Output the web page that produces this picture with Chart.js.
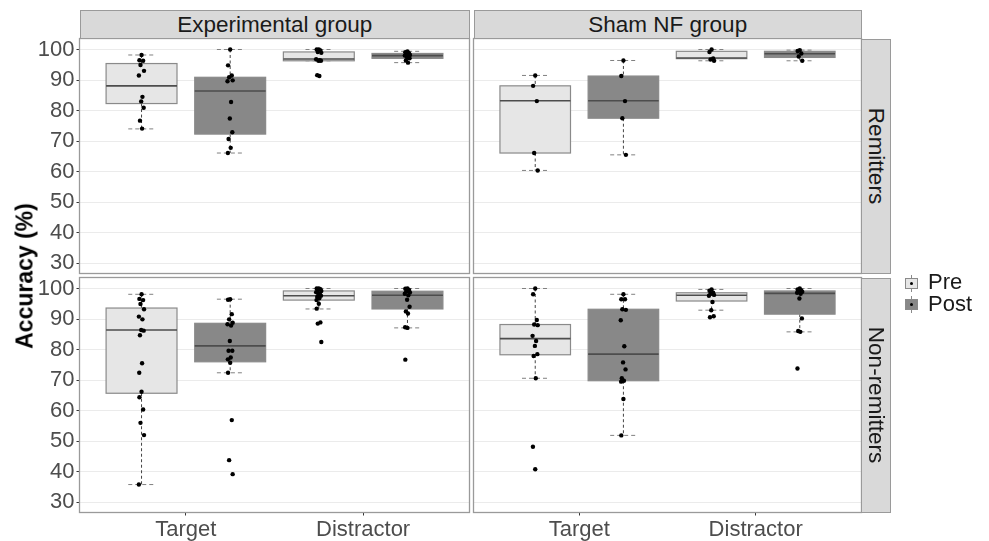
<!DOCTYPE html>
<html>
<head>
<meta charset="utf-8">
<script src="https://cdn.jsdelivr.net/npm/chart.js@4/dist/chart.umd.min.js"></script>
<style>
  html, body { margin: 0; padding: 0; background: #fff; width: 989px; height: 541px; overflow: hidden;
    font-family: "Liberation Sans", Arial, sans-serif; }
  canvas.layer { position: absolute; left: 0; top: 0; }
  .strip { position: absolute; background: #d9d9d9; border: 1px solid #9a9a9a; box-sizing: border-box;
    color: #1a1a1a; font-size: 22.5px; display: flex; align-items: center; justify-content: center; white-space: nowrap; }
  .strip.side span { display: inline-block; transform: rotate(90deg); }
  #ytitle { position: absolute; left: 25px; top: 275.5px; transform: translate(-50%, -50%) rotate(-90deg);
    font-size: 23px; font-weight: bold; color: #000; white-space: nowrap; }
  .key { position: absolute; width: 17px; height: 17px; }
  .key .stem { position: absolute; left: 8px; top: 0; width: 1px; height: 17px; background: #8a8a8a; }
  .key .box { position: absolute; left: 2px; top: 3px; width: 13px; height: 11px; box-sizing: border-box; border: 1px solid #8a8a8a; }
  .key .dot { position: absolute; left: 7px; top: 7px; width: 3px; height: 3px; border-radius: 50%; background: #000; }
  .keylabel { position: absolute; font-size: 22px; color: #1a1a1a; white-space: nowrap; }
</style>
</head>
<body>
<canvas id="pTL" class="layer" width="989" height="541"></canvas>
<canvas id="pTR" class="layer" width="989" height="541"></canvas>
<canvas id="pBL" class="layer" width="989" height="541"></canvas>
<canvas id="pBR" class="layer" width="989" height="541"></canvas>

<div class="strip" id="sG0" style="left:79.5px; top:10px; width:390.5px; height:29px;"></div>
<div class="strip" id="sG1" style="left:473.5px; top:10px; width:388.5px; height:29px;"></div>
<div class="strip side" id="sR0" style="left:861px; top:38.5px; width:29.5px; height:235.5px;"><span></span></div>
<div class="strip side" id="sR1" style="left:861px; top:277.5px; width:29.5px; height:235.5px;"><span></span></div>
<div id="ytitle"></div>

<div class="key" style="left:903px; top:275px;"><div class="stem"></div><div class="box" style="background:#e6e6e6"></div><div class="dot"></div></div>
<div class="keylabel" id="k0" style="left:928px; top:269px;"></div>
<div class="key" style="left:903px; top:296px;"><div class="stem"></div><div class="box" style="background:#888888"></div><div class="dot"></div></div>
<div class="keylabel" id="k1" style="left:928px; top:291px;"></div>

<script>
// Facets, categories and axis ticks
const groups = ['Experimental group', 'Sham NF group'];
const responders = ['Remitters', 'Non-remitters'];
const conditions = ['Target', 'Distractor'];
const sessions = ['Pre', 'Post'];
const yTicks = [30, 40, 50, 60, 70, 80, 90, 100];
const yTitle = 'Accuracy (%)';

// Box summaries: [lower whisker, Q1, median, Q3, upper whisker]
const boxExpRemTargetPre   = [74.0, 82.3, 88.1, 95.4, 98.2];
const boxExpRemTargetPost  = [66.1, 72.3, 86.4, 90.9, 100.0];
const boxExpRemDistrPre    = [96.3, 96.3, 96.9, 99.2, 100.0];
const boxExpRemDistrPost   = [95.7, 97.1, 98.0, 98.7, 99.4];
const boxShamRemTargetPre  = [60.4, 66.1, 83.2, 88.1, 91.5];
const boxShamRemTargetPost = [65.5, 77.5, 83.2, 91.3, 96.4];
const boxShamRemDistrPre   = [96.3, 97.0, 97.2, 99.4, 100.0];
const boxShamRemDistrPost  = [96.3, 97.4, 98.6, 99.4, 99.8];
const boxExpNonTargetPre   = [35.8, 65.7, 86.4, 93.6, 98.1];
const boxExpNonTargetPost  = [72.4, 76.0, 81.2, 88.6, 96.5];
const boxExpNonDistrPre    = [93.3, 96.2, 97.6, 99.2, 100.0];
const boxExpNonDistrPost   = [87.1, 93.3, 97.8, 99.1, 100.0];
const boxShamNonTargetPre  = [70.6, 78.3, 83.6, 88.2, 100.0];
const boxShamNonTargetPost = [51.9, 69.8, 78.5, 93.2, 98.1];
const boxShamNonDistrPre   = [92.9, 95.9, 97.8, 98.6, 99.7];
const boxShamNonDistrPost  = [85.8, 91.6, 98.4, 99.2, 100.0];

// Individual participants' accuracy
const ptsExpRemTargetPre   = [98.2, 96.5, 96.3, 94.9, 93.0, 91.5, 84.5, 83.0, 80.9, 76.7, 74.1];
const ptsExpRemTargetPost  = [100.0, 94.8, 91.5, 90.9, 89.9, 89.6, 82.8, 77.4, 72.9, 70.7, 67.8, 66.1];
const ptsExpRemDistrPre    = [100.0, 100.0, 99.7, 99.2, 98.9, 96.8, 96.5, 96.3, 96.3, 91.6, 91.3];
const ptsExpRemDistrPost   = [99.4, 99.1, 98.8, 98.5, 98.2, 98.0, 97.8, 97.4, 97.1, 96.4, 95.7];
const ptsShamRemTargetPre  = [91.5, 88.1, 83.1, 66.1, 60.4];
const ptsShamRemTargetPost = [96.4, 91.3, 83.1, 77.5, 65.5];
const ptsShamRemDistrPre   = [100.0, 99.2, 97.1, 96.7, 96.3];
const ptsShamRemDistrPost  = [99.8, 99.5, 98.7, 97.7, 96.3];
const ptsExpNonTargetPre   = [98.1, 96.6, 96.2, 94.9, 93.2, 90.8, 89.9, 86.4, 86.2, 84.7, 75.5, 72.4, 66.2, 64.4, 60.4, 56.0, 52.0, 35.8];
const ptsExpNonTargetPost  = [96.5, 96.3, 91.6, 89.9, 88.8, 88.3, 87.9, 82.8, 79.6, 79.6, 77.4, 76.8, 75.7, 72.4, 56.9, 43.8, 39.2];
const ptsExpNonDistrPre    = [100.0, 100.0, 99.8, 99.5, 99.2, 98.8, 98.4, 98.0, 97.6, 97.2, 96.8, 96.2, 95.0, 93.4, 88.9, 88.5, 82.5];
const ptsExpNonDistrPost   = [100.0, 99.9, 99.5, 99.1, 98.7, 98.3, 97.8, 96.3, 94.0, 92.5, 91.8, 87.3, 87.1, 76.7];
const ptsShamNonTargetPre  = [100.0, 98.1, 89.7, 88.2, 88.0, 84.5, 82.8, 81.2, 78.5, 77.9, 70.6, 48.2, 40.8];
const ptsShamNonTargetPost = [98.1, 96.5, 96.5, 93.2, 93.0, 89.6, 81.1, 75.8, 73.5, 70.6, 69.8, 69.5, 63.8, 51.9];
const ptsShamNonDistrPre   = [99.7, 99.3, 98.6, 98.3, 97.9, 97.6, 95.6, 92.9, 90.9, 90.6];
const ptsShamNonDistrPost  = [100.0, 99.7, 99.4, 99.2, 98.9, 98.6, 98.3, 96.7, 90.2, 86.1, 85.8, 73.8];

// Layout & style
const W = 989, H = 541;
const X_MIN = 0.4, X_MAX = 2.6, Y_MIN = 26.65, Y_MAX = 103.6;
const DODGE = 0.25, HALF_BOX = 0.2, HALF_CAP = 0.075;
const JITTER = [0, -0.012, 0.009, -0.006, 0.014, -0.015, 0.005, -0.002, 0.012, -0.009, 0.003, -0.013];
const FILLS = ['#e6e6e6', '#888888'];
const FONT = '"Liberation Sans", Arial, sans-serif';

const panels = [
  { id: 'pTL', area: { l: 79.5, t: 38.5, r: 469.5, b: 273.5 }, showY: true, showX: false,
    boxes: [[boxExpRemTargetPre, boxExpRemTargetPost], [boxExpRemDistrPre, boxExpRemDistrPost]],
    points: [[ptsExpRemTargetPre, ptsExpRemTargetPost], [ptsExpRemDistrPre, ptsExpRemDistrPost]] },
  { id: 'pTR', area: { l: 473.5, t: 38.5, r: 861.5, b: 273.5 }, showY: false, showX: false,
    boxes: [[boxShamRemTargetPre, boxShamRemTargetPost], [boxShamRemDistrPre, boxShamRemDistrPost]],
    points: [[ptsShamRemTargetPre, ptsShamRemTargetPost], [ptsShamRemDistrPre, ptsShamRemDistrPost]] },
  { id: 'pBL', area: { l: 79.5, t: 277.5, r: 469.5, b: 512.5 }, showY: true, showX: true,
    boxes: [[boxExpNonTargetPre, boxExpNonTargetPost], [boxExpNonDistrPre, boxExpNonDistrPost]],
    points: [[ptsExpNonTargetPre, ptsExpNonTargetPost], [ptsExpNonDistrPre, ptsExpNonDistrPost]] },
  { id: 'pBR', area: { l: 473.5, t: 277.5, r: 861.5, b: 512.5 }, showY: false, showX: true,
    boxes: [[boxShamNonTargetPre, boxShamNonTargetPost], [boxShamNonDistrPre, boxShamNonDistrPost]],
    points: [[ptsShamNonTargetPre, ptsShamNonTargetPost], [ptsShamNonDistrPre, ptsShamNonDistrPost]] }
];

function buildPanel(p) {
  const datasets = [];
  const boxDefs = [];
  conditions.forEach((c, ci) => {
    sessions.forEach((s, si) => {
      const pos = ci + 1 + (si === 0 ? -DODGE : DODGE);
      boxDefs.push({ pos, stats: p.boxes[ci][si], fill: FILLS[si] });
      datasets.push({
        label: c + ' ' + s,
        data: p.points[ci][si].map((v, i) => ({ x: pos + JITTER[i % JITTER.length], y: v })),
        pointRadius: 2.2, pointHoverRadius: 2.2,
        pointBackgroundColor: '#000', pointBorderWidth: 0
      });
    });
  });

  // Boxes, dashed whiskers and the panel frame, all placed through the chart scales
  const boxPlugin = {
    id: 'boxes',
    beforeDatasetsDraw(chart) {
      const { ctx, scales: { x, y } } = chart;
      const seg = (x1, y1, x2, y2) => { ctx.beginPath(); ctx.moveTo(x1, y1); ctx.lineTo(x2, y2); ctx.stroke(); };
      ctx.save();
      boxDefs.forEach(b => {
        const [lo, q1, md, q3, hi] = b.stats;
        const xc = x.getPixelForValue(b.pos);
        const xl = x.getPixelForValue(b.pos - HALF_BOX), xr = x.getPixelForValue(b.pos + HALF_BOX);
        const cl = x.getPixelForValue(b.pos - HALF_CAP), cr = x.getPixelForValue(b.pos + HALF_CAP);
        const yLo = y.getPixelForValue(lo), yQ1 = y.getPixelForValue(q1), yMd = y.getPixelForValue(md);
        const yQ3 = y.getPixelForValue(q3), yHi = y.getPixelForValue(hi);
        ctx.lineWidth = 1;
        ctx.strokeStyle = '#444';
        ctx.setLineDash([3, 2.5]);
        seg(xc, yHi, xc, yQ3);
        seg(xc, yQ1, xc, yLo);
        ctx.strokeStyle = '#808080';
        ctx.setLineDash([4, 3]);
        seg(cl, yHi, cr, yHi);
        seg(cl, yLo, cr, yLo);
        ctx.setLineDash([]);
        ctx.fillStyle = b.fill;
        ctx.fillRect(xl, yQ3, xr - xl, yQ1 - yQ3);
        ctx.strokeStyle = '#8a8a8a';
        ctx.lineWidth = 1.2;
        ctx.strokeRect(xl, yQ3, xr - xl, yQ1 - yQ3);
        ctx.strokeStyle = '#4d4d4d';
        ctx.lineWidth = 1.6;
        seg(xl, yMd, xr, yMd);
      });
      ctx.restore();
    },
    afterDraw(chart) {
      const { ctx, chartArea: a } = chart;
      ctx.save();
      ctx.strokeStyle = '#9a9a9a';
      ctx.lineWidth = 1.3;
      ctx.strokeRect(a.left, a.top, a.right - a.left, a.bottom - a.top);
      ctx.restore();
    }
  };

  const a = p.area;
  new Chart(document.getElementById(p.id), {
    type: 'scatter',
    data: { datasets },
    options: {
      responsive: false, animation: false, events: [],
      layout: { padding: { left: p.showY ? 0 : a.l, top: a.t, right: W - a.r, bottom: p.showX ? 0 : H - a.b } },
      plugins: { legend: { display: false }, tooltip: { enabled: false } },
      scales: {
        x: {
          type: 'linear', min: X_MIN, max: X_MAX, display: p.showX,
          afterBuildTicks: s => { s.ticks = conditions.map((c, i) => ({ value: i + 1 })); },
          afterFit: s => { s.height = p.showX ? H - a.b : 0; },
          ticks: { color: '#4d4d4d', font: { size: 22, family: FONT }, padding: 1, maxRotation: 0, autoSkip: false,
                   callback: (v, i) => conditions[i] },
          grid: { drawOnChartArea: false, drawTicks: true, tickLength: 3, tickColor: '#333' },
          border: { display: false }
        },
        y: {
          type: 'linear', min: Y_MIN, max: Y_MAX,
          afterBuildTicks: s => { s.ticks = yTicks.map(v => ({ value: v })); },
          afterFit: s => { s.width = p.showY ? a.l : 0; },
          ticks: { display: p.showY, color: '#4d4d4d', font: { size: 22, family: FONT }, padding: 2 },
          grid: { color: '#ebebeb', lineWidth: 1, drawTicks: p.showY, tickLength: 3, tickColor: '#333' },
          border: { display: false }
        }
      }
    },
    plugins: [boxPlugin]
  });
}

panels.forEach(buildPanel);

// Facet strips, axis title and legend text
document.getElementById('sG0').textContent = groups[0];
document.getElementById('sG1').textContent = groups[1];
document.querySelector('#sR0 span').textContent = responders[0];
document.querySelector('#sR1 span').textContent = responders[1];
document.getElementById('ytitle').textContent = yTitle;
document.getElementById('k0').textContent = sessions[0];
document.getElementById('k1').textContent = sessions[1];
</script>
</body>
</html>
